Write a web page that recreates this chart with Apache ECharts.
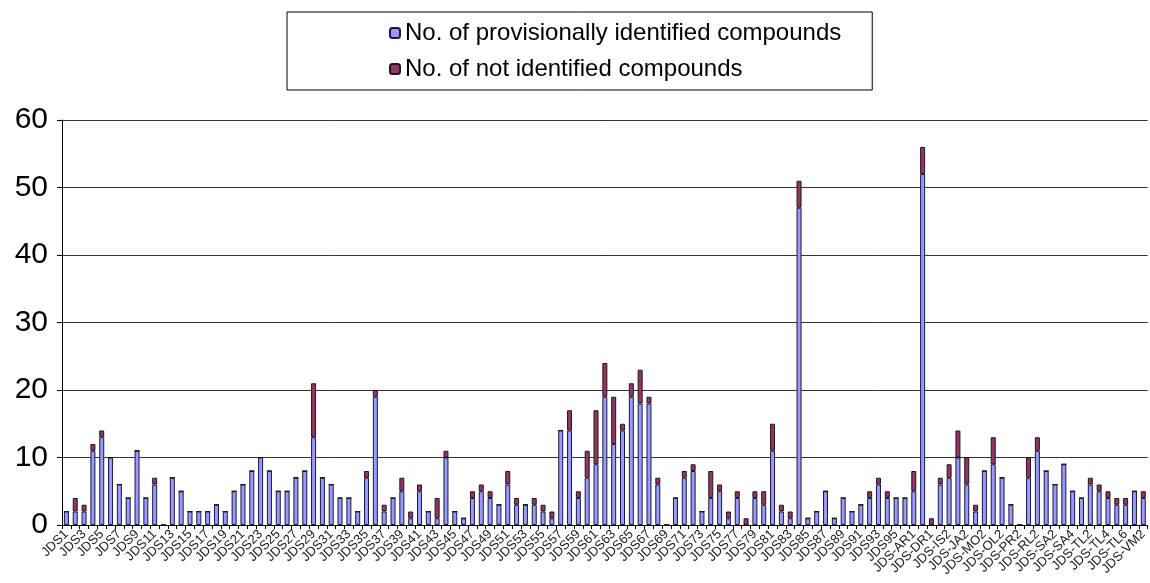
<!DOCTYPE html>
<html>
<head>
<meta charset="utf-8">
<script src="https://cdn.jsdelivr.net/npm/echarts@6/dist/echarts.min.js"></script>
<style>
html,body{margin:0;padding:0;background:#fff;}
#c{width:1150px;height:583px;}
</style>
</head>
<body>
<div id="c"></div>
<script>
// Sites: JDS1..JDS96 followed by tributary sites
const mainSites = [];
for (let i = 1; i <= 96; i++) mainSites.push('JDS' + i);
const tributarySites = ['JDS-AR1','JDS-AR2','JDS-DR1','JDS-IS1','JDS-IS2','JDS-JA1','JDS-JA2','JDS-MO1','JDS-MO2',
  'JDS-OL1','JDS-OL2','JDS-PR1','JDS-PR2','JDS-RL1','JDS-RL2','JDS-SA1','JDS-SA2','JDS-SA3','JDS-SA4',
  'JDS-TL1','JDS-TL2','JDS-TL3','JDS-TL4','JDS-TL5','JDS-TL6','JDS-VM1','JDS-VM2'];
const categories = mainSites.concat(tributarySites);

const provisionallyIdentified = [
  2,2,2,11,13,10,6,4,11,4,
  6,0,7,5,2,2,2,3,2,5,
  6,8,10,8,5,5,7,8,13,7,
  6,4,4,2,7,19,2,4,5,1,
  5,2,1,10,2,1,4,5,4,3,
  6,3,3,3,2,1,14,14,4,7,
  9,19,12,14,19,18,18,6,0,4,
  7,8,2,4,5,1,4,0,4,3,
  11,2,1,47,1,2,5,1,4,2,
  3,4,6,4,4,4,
  5,52,0,6,7,10,6,2,8,9,7,3,0,7,11,8,6,9,5,4,6,5,4,3,3,5,4
];
const notIdentified = [
  0,2,1,1,1,0,0,0,0,0,
  1,0,0,0,0,0,0,0,0,0,
  0,0,0,0,0,0,0,0,8,0,
  0,0,0,0,1,1,1,0,2,1,
  1,0,3,1,0,0,1,1,1,0,
  2,1,0,1,1,1,0,3,1,4,
  8,5,7,1,2,5,1,1,0,0,
  1,1,0,4,1,1,1,1,1,2,
  4,1,1,4,0,0,0,0,0,0,
  0,1,1,1,0,0,
  3,4,1,1,2,4,4,1,0,4,0,0,0,3,2,0,0,0,0,0,1,1,1,1,1,0,1
];
const yTicks = [0,10,20,30,40,50,60];

const font = 'Liberation Sans, Arial, Helvetica, sans-serif';
const chart = echarts.init(document.getElementById('c'), null, {renderer:'canvas'});
chart.setOption({
  animation: false,
  backgroundColor: '#fff',
  legend: {
    orient: 'vertical',
    left: 287, top: 12,
    padding: [9, 31, 9, 102],
    borderColor: '#000', borderWidth: 1,
    itemWidth: 10, itemHeight: 10, itemGap: 12,
    selectedMode: false,
    textStyle: {fontFamily: font, fontSize: 24, color: '#000'},
    data: ['No. of provisionally identified compounds','No. of not identified compounds']
  },
  grid: {left: 62, right: 2, top: 120, bottom: 58, containLabel: false},
  xAxis: {
    type: 'category',
    data: categories,
    axisLine: {lineStyle: {color: '#000', width: 1}},
    axisTick: {show: true, interval: 0, length: 4, lineStyle: {color: '#000'}},
    axisLabel: {interval: 0, rotate: 45, fontFamily: font, fontSize: 13, color: '#222', margin: 7,
      showMinLabel: true, showMaxLabel: true, hideOverlap: false,
      formatter: (v, i) => (i % 2 === 0 ? v : '')}
  },
  yAxis: {
    type: 'value',
    min: yTicks[0], max: yTicks[yTicks.length-1], interval: 10,
    axisLine: {show: true, lineStyle: {color: '#000', width: 1}},
    axisTick: {show: true, length: 5, lineStyle: {color: '#000'}},
    axisLabel: {fontFamily: font, fontSize: 30, color: '#000', margin: 14},
    splitLine: {show: true, lineStyle: {color: '#333', width: 1}}
  },
  series: [
    {
      name: 'No. of provisionally identified compounds',
      type: 'bar', stack: 'total', barWidth: 5,
      itemStyle: {color: '#9999FF', borderColor: '#1a1a3a', borderWidth: 1},
      data: provisionallyIdentified
    },
    {
      name: 'No. of not identified compounds',
      type: 'bar', stack: 'total', barWidth: 5,
      itemStyle: {color: '#993366', borderColor: '#1a1a1a', borderWidth: 1},
      data: notIdentified
    }
  ]
});
</script>
</body>
</html>
